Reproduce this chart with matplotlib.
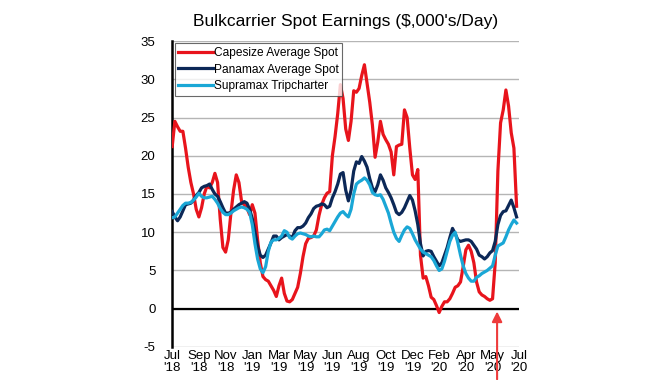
"""Bulkcarrier spot earnings chart -> out.png"""

import matplotlib.pyplot as plt
import numpy as np

TICK_LABELS = ["Jul\n'18", "Sep\n'18", "Nov\n'18", "Jan\n'19", "Mar\n'19", "May\n'19",
               "Jun\n'19", "Aug\n'19", "Oct\n'19", "Dec\n'19", "Feb\n'20", "Apr\n'20",
               "May\n'20", "Jul\n'20"]

# $,000/day, sampled every 0.1 of a tick interval
CAPESIZE = [
    21.2, 24.5, 23.8, 23.2, 23.2, 21.0, 18.5, 16.5, 15.0, 13.0,
    12.0, 13.2, 15.0, 16.0, 15.8, 16.5, 17.7, 16.5, 11.7, 8.0,
    7.4, 9.0, 12.5, 15.5, 17.5, 16.5, 14.0, 13.6, 13.2, 12.3,
    13.6, 12.5, 9.0, 6.0, 4.2, 3.8, 3.6, 3.0, 2.4, 1.6,
    3.0, 4.0, 2.0, 1.0, 0.9, 1.2, 2.0, 2.8, 4.6, 6.8,
    8.5, 9.2, 9.3, 9.5, 10.3, 12.2, 13.6, 14.5, 15.1, 15.3,
    20.0, 22.5, 25.5, 29.3, 27.5, 23.5, 22.0, 24.5, 28.5, 28.3,
    28.8, 30.5, 31.9, 29.5, 27.0, 24.0, 19.8, 21.8, 24.5, 22.8,
    22.1, 21.5, 20.5, 17.5, 21.2, 21.4, 21.5, 26.0, 25.0, 21.0,
    17.5, 16.9, 18.2, 7.0, 4.0, 4.2, 3.0, 1.5, 1.2, 0.4,
    -0.5, 0.3, 0.9, 0.9, 1.3, 2.0, 2.8, 3.0, 3.5, 5.5,
    7.7, 8.3, 7.5, 6.0, 3.5, 2.2, 1.8, 1.6, 1.3, 1.1,
    1.3, 6.0, 18.0, 24.3, 26.0, 28.6, 26.5, 23.0, 21.0, 13.4,
]
PANAMAX = [
    12.7, 12.0, 11.5, 12.0, 12.8, 13.6, 13.7, 13.8, 14.2, 14.8,
    15.2, 15.8, 16.0, 16.1, 16.3, 15.6, 15.0, 14.7, 14.0, 13.2,
    12.5, 12.5, 12.6, 13.0, 13.3, 13.6, 13.8, 14.0, 13.8, 13.0,
    11.8, 10.0, 8.2, 7.0, 6.7, 7.0, 7.8, 8.6, 9.5, 9.5,
    9.0, 9.3, 9.5, 9.7, 9.5, 9.3, 10.2, 10.6, 10.6, 10.8,
    11.2, 11.9, 12.4, 13.1, 13.4, 13.5, 13.7, 13.6, 13.2, 13.4,
    14.5, 15.3, 16.3, 17.6, 17.8, 15.5, 14.1, 15.5, 18.0, 19.2,
    19.0, 19.9, 19.3, 18.5, 17.0, 15.8, 15.3, 16.2, 17.5, 16.8,
    15.8, 15.2, 14.5, 13.6, 12.6, 12.3, 12.6, 13.2, 14.0, 14.8,
    14.2, 12.8, 11.0, 8.5, 6.9, 7.5, 7.6, 7.5, 6.8, 6.2,
    5.6, 6.0, 7.0, 8.0, 9.3, 10.5, 9.8, 9.0, 8.8, 8.9,
    9.0, 9.0, 8.8, 8.3, 7.8, 7.0, 6.8, 6.5, 6.8, 7.3,
    7.6, 8.8, 11.0, 12.2, 12.7, 12.8, 13.5, 14.2, 13.2, 12.0,
]
SUPRAMAX = [
    11.9, 12.0, 12.5, 13.0, 13.5, 13.8, 13.8, 13.9, 14.2, 14.6,
    15.1, 14.7, 14.5, 14.5, 14.6, 14.7, 14.3, 13.8, 13.1, 12.6,
    12.3, 12.3, 12.5, 12.8, 13.0, 13.2, 13.3, 13.2, 13.0, 12.6,
    11.0, 8.5, 6.5, 5.2, 4.7, 5.5, 7.5, 8.7, 9.0, 9.0,
    9.2, 9.5, 10.2, 10.0, 9.3, 9.1, 9.5, 9.8, 9.9, 9.8,
    9.7, 9.5, 9.4, 9.5, 9.4, 9.4, 9.8, 10.3, 10.4, 10.2,
    10.8, 11.4, 12.0, 12.5, 12.7, 12.3, 12.0, 13.0, 15.0, 16.3,
    16.6, 16.8, 17.1, 16.8, 16.2, 15.2, 14.9, 14.8, 14.9, 14.3,
    13.4, 12.5, 11.2, 10.0, 9.2, 8.8, 9.6, 10.3, 10.7, 10.5,
    9.8, 9.0, 8.4, 7.8, 7.4, 7.2, 7.0, 6.8, 6.3, 5.6,
    5.0, 5.2, 6.2, 7.5, 8.8, 9.6, 10.0, 8.6, 7.0, 5.6,
    4.6, 4.0, 3.6, 3.6, 4.1, 4.3, 4.6, 4.8, 5.0, 5.3,
    5.6, 7.0, 8.2, 8.4, 8.6, 9.4, 10.3, 11.0, 11.6, 11.2,
]
ARROW_X = 12.17  # where the red marker points (late May '20)

RED = "#e8141c"
NAVY = "#0c2857"
CYAN = "#1aa7d6"

plt.rcParams["font.family"] = ["Liberation Sans", "DejaVu Sans"]
plt.rcParams["axes.unicode_minus"] = False


def main() -> None:
    x = np.arange(len(CAPESIZE)) * 0.1

    fig = plt.figure(figsize=(6.7, 3.8), dpi=100)
    ax = fig.add_axes([0.257, 0.087, 0.518, 0.805])

    for y in range(-5, 40, 5):
        ax.axhline(y, color="#b5b5b5", lw=1.0, zorder=0)
    ax.axhline(0, color="black", lw=1.6, zorder=1)

    ax.plot(x, CAPESIZE, color=RED, lw=2.3, label="Capesize Average Spot", zorder=3)
    ax.plot(x, PANAMAX, color=NAVY, lw=2.3, label="Panamax Average Spot", zorder=4)
    ax.plot(x, SUPRAMAX, color=CYAN, lw=2.3, label="Supramax Tripcharter", zorder=5)

    ax.set_xlim(0, 13)
    ax.set_ylim(-5, 35)
    ax.set_yticks(range(-5, 40, 5))
    ax.set_xticks(range(len(TICK_LABELS)))
    ax.set_xticklabels(TICK_LABELS, fontsize=9.5, linespacing=1.0)
    ax.tick_params(axis="y", length=0, labelsize=9.5, pad=12)
    ax.tick_params(axis="x", length=0, pad=2)
    for side in ("top", "right", "bottom"):
        ax.spines[side].set_visible(False)
    ax.spines["left"].set_linewidth(1.8)
    ax.spines["left"].set_color("black")

    leg = ax.legend(loc="upper left", fontsize=8.6, frameon=True, fancybox=False,
                    handlelength=2.9, handletextpad=0.1, labelspacing=0.38,
                    borderpad=0.3, borderaxespad=0.2)
    leg.get_frame().set_edgecolor("#444444")
    leg.get_frame().set_linewidth(0.8)

    ax.annotate("", xy=(ARROW_X, 0), xytext=(ARROW_X, -9.6),
                arrowprops=dict(arrowstyle="-|>,head_length=0.6,head_width=0.3",
                                color="#ee3b3b", lw=1.5),
                annotation_clip=False, zorder=6)

    ax.set_title("Bulkcarrier Spot Earnings ($,000's/Day)", fontsize=12.5, pad=11)

    fig.savefig("out.png", dpi=100)


if __name__ == "__main__":
    main()
